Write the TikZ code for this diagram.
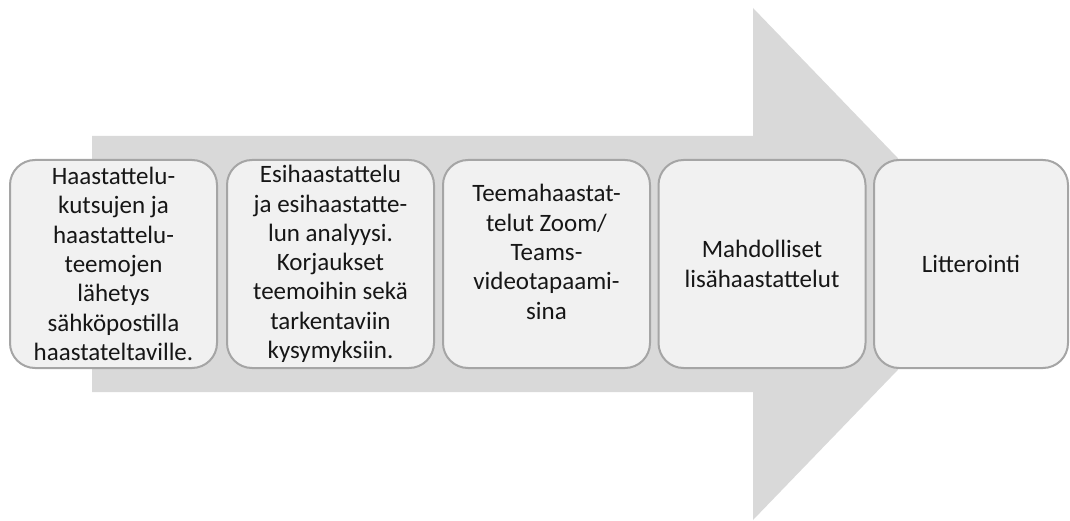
\documentclass[tikz,border=0pt]{standalone}
\usepackage{fontspec}
\setmainfont{Carlito}
\begin{document}
\begin{tikzpicture}[x=1pt,y=-1pt,
  steptext/.style={inner sep=0pt, align=center, text=textcol,
    font=\fontsize{25}{29.3}\selectfont},
  stepbox/.style={steptext, draw=boxline, line width=2pt, fill=boxfill,
    rounded corners=25pt, minimum height=208pt},
  wide/.style={stepbox, minimum width=207pt},
]
\definecolor{arrowfill}{HTML}{D9D9D9}
\definecolor{boxfill}{HTML}{F1F1F1}
\definecolor{boxline}{HTML}{A5A5A5}
\definecolor{textcol}{HTML}{161616}
\useasboundingbox (0,0) rectangle (1070,521);
% large background arrow
\fill[arrowfill] (92,136) -- (753,136) -- (753,8) -- (1000,264) -- (753,520)
  -- (753,392) -- (92,392) -- cycle;
% process steps
\node[wide] (s1) at (113.5,264) {Haastattelu-\\kutsujen ja\\haastattelu-\\teemojen\\lähetys\\sähköpostilla\\haastateltaville.};
\node[wide] (s2) at (330.5,264) {Esihaastattelu\\ja esihaastatte-\\lun analyysi.\\Korjaukset\\teemoihin sekä\\tarkentaviin\\kysymyksiin.};
\node[wide] (s3) at (546.5,264) {};
\node[steptext, yshift=12pt] (t3) at (s3.center) {Teemahaastat-\\telut Zoom/\\Teams-\\videotapaami-\\sina};
\node[wide] (s4) at (762,264) {Mahdolliset\\lisähaastattelut};
\node[stepbox, minimum width=194pt] (s5) at (971,264) {Litterointi};
\end{tikzpicture}
\end{document}
